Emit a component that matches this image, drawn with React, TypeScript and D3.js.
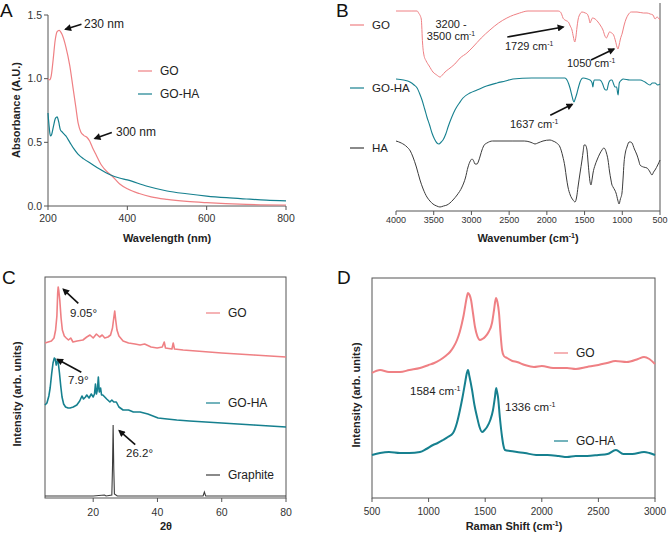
import React from 'react';
import * as d3 from 'd3';

type P = [number, number];

const FONT = '"Liberation Sans", Arial, Helvetica, sans-serif';
const PINK = '#EF8084';
const TEAL = '#16808F';
const DARK = '#3c3c3c';
const AXIS = '#555555';

// ---------- Panel A: UV-Vis ----------
const uvTicksX = [200, 400, 600, 800];
const uvTicksY = [0, 0.5, 1.0, 1.5];
const uvGO: P[] = [[200,1.0],[204,0.99],[208,1.02],[213,1.15],[218,1.3],[223,1.37],[228,1.38],[235,1.35],[245,1.25],[255,1.1],[263,0.93],[270,0.78],[276,0.65],[283,0.58],[290,0.555],[298,0.54],[305,0.51],[312,0.46],[320,0.41],[335,0.32],[350,0.265],[360,0.24],[380,0.175],[400,0.135],[430,0.098],[460,0.072],[500,0.052],[550,0.036],[600,0.026],[700,0.013],[800,0.008]];
const uvGOHA: P[] = [[200,0.73],[203,0.62],[206,0.55],[209,0.56],[214,0.63],[219,0.69],[223,0.70],[227,0.66],[231,0.6],[236,0.58],[245,0.55],[255,0.5],[265,0.45],[275,0.41],[290,0.37],[310,0.33],[330,0.29],[358,0.243],[380,0.22],[400,0.205],[450,0.155],[500,0.118],[550,0.096],[600,0.078],[650,0.065],[700,0.055],[750,0.046],[800,0.04]];

// ---------- Panel B: FTIR ----------
const irTicks = [4000, 3500, 3000, 2500, 2000, 1500, 1000, 500];
const irGO: P[] = [[4000,200],[3800,200],[3720,200],[3700,198],[3665,192],[3648,168],[3630,156],[3600,150],[3560,145],[3510,139],[3460,136],[3417,134],[3385,136],[3350,139],[3300,142],[3220,147],[3150,153],[3060,158],[2980,164],[2870,173],[2755,181],[2640,188],[2530,193],[2440,196],[2360,198],[2250,200],[1850,200],[1820,199],[1800,196],[1786,193],[1760,191],[1735,190],[1715,189],[1690,185],[1667,181],[1648,174],[1630,169],[1615,174],[1600,184],[1587,191],[1560,197],[1534,199],[1490,198],[1465,197],[1440,192],[1428,188],[1415,190],[1395,193],[1360,192],[1322,189],[1285,185],[1256,181],[1230,175],[1210,173],[1190,176],[1170,179],[1140,178],[1115,176],[1090,170],[1070,164],[1057,162],[1045,165],[1025,172],[1000,178],[975,186],[950,192],[924,196],[880,199],[805,199],[720,198],[672,198],[630,197],[593,196],[565,192],[540,194],[520,193],[500,191]];
const irGOHA: P[] = [[4000,132],[3900,131],[3815,129],[3760,126],[3720,123],[3690,118],[3655,111],[3620,102],[3590,94],[3555,86],[3523,78],[3490,72],[3457,68],[3430,67],[3400,69],[3377,71],[3340,77],[3310,84],[3260,94],[3218,101],[3160,108],[3112,113],[3020,118],[2926,121],[2800,125],[2661,128],[2550,130],[2449,132],[2200,133],[1760,133],[1733,131],[1710,127],[1693,123],[1670,116],[1653,111],[1640,109],[1625,112],[1600,118],[1580,124],[1560,129],[1520,133],[1460,132],[1428,131],[1400,128],[1390,124],[1380,129],[1370,131],[1300,131],[1260,127],[1242,123],[1220,121],[1203,121],[1190,125],[1176,129],[1150,131],[1136,131],[1115,127],[1097,124],[1075,124],[1062,118],[1055,116],[1048,122],[1040,128],[1010,131],[990,132],[900,131],[765,131],[700,129],[633,126],[600,128],[566,128],[530,126],[500,127]];
const irHA: P[] = [[4000,70],[3930,68],[3854,64],[3810,60],[3775,54],[3730,44],[3682,31],[3640,22],[3590,14],[3550,10],[3510,7],[3460,5],[3417,4],[3370,5],[3324,6],[3285,8],[3245,11],[3190,16],[3125,24],[3080,33],[3045,44],[3015,50],[2992,52],[2970,50],[2953,47],[2925,47],[2905,50],[2880,56],[2860,61],[2830,66],[2794,68],[2720,70],[2661,70],[2450,70],[2300,70],[2224,69],[2190,68],[2157,67],[2120,68],[2051,70],[1958,71],[1919,70],[1870,68],[1826,64],[1790,55],[1760,44],[1740,33],[1720,24],[1690,16],[1653,11],[1627,9],[1605,14],[1587,24],[1560,38],[1534,51],[1518,60],[1507,66],[1490,66],[1468,61],[1455,50],[1441,38],[1425,28],[1415,26],[1400,32],[1388,38],[1360,46],[1335,51],[1300,57],[1269,61],[1245,63],[1229,62],[1210,58],[1189,51],[1170,40],[1150,31],[1140,27],[1123,24],[1100,21],[1083,18],[1060,11],[1043,7],[1025,12],[1004,18],[990,32],[977,48],[960,58],[938,64],[920,68],[911,69],[890,69],[871,68],[840,62],[805,56],[780,50],[765,46],[720,44],[672,43],[640,40],[606,36],[585,39],[566,41],[530,46],[500,51]];

// ---------- Panel C: XRD ----------
const xrdTicks = [20, 40, 60, 80];
const xrdGO: P[] = [[5,155],[6,156],[7,157],[7.8,160],[8.3,168],[8.7,182],[8.95,205],[9.1,211],[9.3,207],[9.6,198],[10,180],[10.4,168],[11,162],[11.6,160],[12.3,158],[13,160],[13.7,156],[15,157],[16.8,158],[18,161],[19,163],[20,160],[21,164],[22,161],[22.8,163],[23.6,160],[24.6,161],[25.4,163],[26,170],[26.4,180],[26.7,187],[27,178],[27.4,168],[28,162],[29.3,157],[31,155],[33,154],[34.6,153],[36,154],[38,151],[39.9,150],[41.5,151],[42.1,156],[42.5,150],[44.5,149],[44.9,155],[45.3,149],[48,148],[52,147],[56,146],[60,145],[65,144],[70,143],[75,142],[80,141]];
const xrdGOHA: P[] = [[5,93],[5.6,95],[6.2,102],[6.6,110],[7.1,125],[7.5,135],[7.9,140],[8.2,139],[8.5,133],[8.8,137],[9.1,136],[9.5,125],[9.9,112],[10.3,101],[10.8,94],[11.4,91],[12.2,90],[12.8,90],[13.8,91],[14.9,93],[15.8,97],[16.5,102],[17,99],[17.6,101],[18,103],[18.7,100],[19.4,104],[20,101],[20.4,104],[20.7,114],[21,104],[21.3,108],[21.6,121],[21.9,106],[22.3,110],[22.6,103],[23,103],[23.6,101],[24.2,99],[25.2,96],[25.8,98],[26.4,96],[27.2,96],[28,91],[29.3,88],[31,88],[32.5,86],[34.6,86],[37,84],[40.2,80],[43,79],[46,78],[50,77],[55,76],[60,75],[65,74],[70,73],[75,72],[80,71]];
const xrdGraphite: P[] = [[5,2],[20,2],[23.5,3],[24,2],[25.8,3],[26.0,30],[26.2,73],[26.4,30],[26.6,4],[27.5,2],[50,2],[54.2,2],[54.6,6],[55,2],[80,2]];

// ---------- Panel D: Raman ----------
const ramanTicks = [500, 1000, 1500, 2000, 2500, 3000];
const ramanGO: P[] = [[500,125],[571,128],[650,126],[747,126],[830,128],[924,130],[1000,133],[1050,135],[1100,138],[1150,142],[1189,146],[1220,151],[1251,158],[1275,166],[1295,175],[1310,183],[1322,191],[1336,200],[1348,205],[1362,203],[1375,198],[1392,185],[1410,171],[1430,162],[1454,158],[1475,159],[1498,161],[1530,166],[1560,175],[1578,188],[1595,200],[1608,196],[1622,185],[1635,165],[1649,148],[1665,142],[1693,140],[1740,137],[1781,136],[1850,133],[1931,131],[2000,132],[2100,130],[2223,130],[2300,129],[2400,131],[2500,133],[2576,135],[2650,137],[2750,136],[2850,139],[2903,141],[2950,139],[3000,134]];
const ramanGOHA: P[] = [[500,43],[571,45],[650,46],[747,45],[830,45],[924,46],[980,49],[1039,53],[1080,55],[1127,58],[1170,61],[1216,65],[1250,75],[1277,88],[1300,101],[1322,115],[1336,124],[1348,128],[1360,122],[1384,108],[1405,93],[1428,81],[1450,71],[1472,66],[1495,68],[1516,71],[1545,78],[1569,88],[1585,100],[1597,110],[1605,106],[1613,101],[1630,80],[1649,61],[1662,52],[1675,48],[1720,47],[1781,46],[1850,45],[1950,43],[2050,43],[2150,42],[2223,41],[2300,42],[2400,42],[2500,43],[2580,44],[2655,48],[2720,44],[2800,44],[2903,46],[2950,45],[3000,43]];

function Arrow({ x1, y1, x2, y2 }: { x1: number; y1: number; x2: number; y2: number }) {
  return <line x1={x1} y1={y1} x2={x2} y2={y2} stroke="#111" strokeWidth={1.6} markerEnd="url(#arrowHead)" />;
}

function LegendItem({ x, y, color, label, fs }: { x: number; y: number; color: string; label: string; fs: number }) {
  return (
    <g>
      <line x1={x} x2={x + 14} y1={y} y2={y} stroke={color} strokeWidth={1.2} />
      <text x={x + 22} y={y} dy="0.36em" fontSize={fs} fill="#222">{label}</text>
    </g>
  );
}

function CmText({ x, y, num, fs, anchor }: { x: number; y: number; num: string; fs: number; anchor?: string }) {
  return (
    <text x={x} y={y} dy="0.35em" fontSize={fs} fill="#222" textAnchor={anchor || 'start'}>
      {num} cm<tspan dy={-fs * 0.38} fontSize={fs * 0.62}>-1</tspan>
    </text>
  );
}

export default function App() {
  const ax = d3.scaleLinear().domain([200, 800]).range([48, 286]);
  const ay = d3.scaleLinear().domain([0, 1.5]).range([206, 15]);
  const aLine = d3.line<P>().x(d => ax(d[0])).y(d => ay(d[1])).curve(d3.curveMonotoneX);

  const bx = d3.scaleLinear().domain([4000, 500]).range([396, 660]);
  const by = d3.scaleLinear().domain([0, 206]).range([211, 5]);
  const bLine = d3.line<P>().x(d => bx(d[0])).y(d => by(d[1])).curve(d3.curveMonotoneX);

  const cx = d3.scaleLinear().domain([5, 80]).range([45, 286]);
  const cy = d3.scaleLinear().domain([0, 221]).range([498, 277]);
  const cLine = d3.line<P>().x(d => cx(d[0])).y(d => cy(d[1])).curve(d3.curveLinear);

  const dx = d3.scaleLinear().domain([500, 3000]).range([372, 655]);
  const dy = d3.scaleLinear().domain([0, 220]).range([498, 278]);
  const dLine = d3.line<P>().x(d => dx(d[0])).y(d => dy(d[1])).curve(d3.curveMonotoneX);

  const a230 = [ax(244), ay(1.388)];
  const a300 = [ax(318), ay(0.53)];
  const b1729 = [bx(1782), by(184)];
  const b1050 = [bx(1110), by(162)];
  const b1637 = [bx(1663), by(106.7)];
  const c905 = [cx(10.7), cy(208.7)];
  const c79 = [cx(8.83), cy(138.7)];
  const c262 = [cx(28.1), cy(67.3)];

  return (
    <svg width={668} height={533} style={{ position: 'absolute', left: 0, top: 0, background: '#fff' }} fontFamily={FONT}>
      <defs>
        <marker id="arrowHead" viewBox="0 0 10 10" refX={8} refY={5} markerUnits="userSpaceOnUse" markerWidth={8} markerHeight={7} orient="auto">
          <path d="M0,0 L10,5 L0,10 z" fill="#111" />
        </marker>
      </defs>
      <rect x={0} y={0} width={668} height={533} fill="#fff" />

      {/* ================= Panel A ================= */}
      <text x={0} y={17} fontSize={19} fill="#111">A</text>
      <line x1={48} x2={48} y1={ay(1.5)} y2={206} stroke={AXIS} />
      <line x1={48} x2={286} y1={206} y2={206} stroke={AXIS} />
      {uvTicksY.map(t => (
        <g key={'ay' + t}>
          <line x1={44} x2={48} y1={ay(t)} y2={ay(t)} stroke={AXIS} />
          <text x={42} y={ay(t)} dy="0.35em" textAnchor="end" fontSize={10.5} fill="#333">{t.toFixed(1)}</text>
        </g>
      ))}
      {uvTicksX.map(t => (
        <g key={'ax' + t}>
          <line x1={ax(t)} x2={ax(t)} y1={206} y2={210} stroke={AXIS} />
          <text x={ax(t)} y={222} textAnchor="middle" fontSize={10.5} fill="#333">{t}</text>
        </g>
      ))}
      <path d={aLine(uvGO) || ''} fill="none" stroke={PINK} strokeWidth={1.2} />
      <path d={aLine(uvGOHA) || ''} fill="none" stroke={TEAL} strokeWidth={1.2} />
      <text x={167} y={242} textAnchor="middle" fontSize={11} fontWeight="bold" fill="#222">Wavelength (nm)</text>
      <text transform="translate(19.5,110) rotate(-90)" textAnchor="middle" fontSize={11} fontWeight="bold" fill="#222">Absorbance (A.U.)</text>
      <LegendItem x={138} y={71} color={PINK} label="GO" fs={12} />
      <LegendItem x={138} y={94} color={TEAL} label="GO-HA" fs={12} />
      <Arrow x1={a230[0] + 16} y1={a230[1] - 5} x2={a230[0]} y2={a230[1]} />
      <text x={84} y={24} dy="0.35em" fontSize={12} fill="#222">230 nm</text>
      <Arrow x1={a300[0] + 17} y1={a300[1] - 6} x2={a300[0]} y2={a300[1]} />
      <text x={116} y={132} dy="0.35em" fontSize={12} fill="#222">300 nm</text>

      {/* ================= Panel B ================= */}
      <text x={336} y={17} fontSize={19} fill="#111">B</text>
      <line x1={396} x2={660} y1={211} y2={211} stroke={AXIS} />
      <line x1={660} x2={660} y1={3} y2={211} stroke={AXIS} />
      {irTicks.map(t => (
        <g key={'bx' + t}>
          <line x1={bx(t)} x2={bx(t)} y1={211} y2={215} stroke={AXIS} />
          <text x={bx(t)} y={223} textAnchor="middle" fontSize={9} fill="#333">{t}</text>
        </g>
      ))}
      <path d={bLine(irGO) || ''} fill="none" stroke={PINK} strokeWidth={1} />
      <path d={bLine(irGOHA) || ''} fill="none" stroke={TEAL} strokeWidth={1.1} />
      <path d={bLine(irHA) || ''} fill="none" stroke={DARK} strokeWidth={1} />
      <text x={528} y={242} textAnchor="middle" fontSize={11} fontWeight="bold" fill="#222">
        Wavenumber (cm<tspan dy={-4} fontSize={7}>-1</tspan><tspan dy={4}>)</tspan>
      </text>
      <LegendItem x={350} y={25} color={PINK} label="GO" fs={11.5} />
      <LegendItem x={350} y={88} color={TEAL} label="GO-HA" fs={11.5} />
      <LegendItem x={350} y={148} color={DARK} label="HA" fs={11.5} />
      <text x={451} y={24} dy="0.35em" textAnchor="middle" fontSize={11} fill="#222">3200 -</text>
      <CmText x={451} y={36} num="3500" fs={11} anchor="middle" />
      <Arrow x1={b1729[0] - 56} y1={b1729[1] + 10} x2={b1729[0]} y2={b1729[1]} />
      <CmText x={505} y={46} num="1729" fs={11} />
      <Arrow x1={b1050[0] - 23} y1={b1050[1] + 11} x2={b1050[0]} y2={b1050[1]} />
      <CmText x={567} y={63.5} num="1050" fs={11} />
      <Arrow x1={b1637[0] - 22} y1={b1637[1] + 11} x2={b1637[0]} y2={b1637[1]} />
      <CmText x={510} y={124.5} num="1637" fs={11} />

      {/* ================= Panel C ================= */}
      <text x={2} y={284} fontSize={19} fill="#111">C</text>
      <rect x={45} y={277} width={241} height={221} fill="none" stroke={AXIS} />
      {xrdTicks.map(t => (
        <g key={'cx' + t}>
          <line x1={cx(t)} x2={cx(t)} y1={498} y2={502} stroke={AXIS} />
          <text x={cx(t)} y={516} textAnchor="middle" fontSize={10.5} fill="#333">{t}</text>
        </g>
      ))}
      <path d={cLine(xrdGO) || ''} fill="none" stroke={PINK} strokeWidth={1.6} strokeLinejoin="round" />
      <path d={cLine(xrdGOHA) || ''} fill="none" stroke={TEAL} strokeWidth={1.6} strokeLinejoin="round" />
      <path d={cLine(xrdGraphite) || ''} fill="none" stroke={DARK} strokeWidth={1.1} />
      <text x={166} y={530} textAnchor="middle" fontSize={11} fontWeight="bold" fill="#222">2θ</text>
      <text transform="translate(20.5,394) rotate(-90)" textAnchor="middle" fontSize={11} fontWeight="bold" fill="#222">Intensity (arb. units)</text>
      <LegendItem x={206} y={313} color={PINK} label="GO" fs={12} />
      <LegendItem x={206} y={403} color={TEAL} label="GO-HA" fs={12} />
      <LegendItem x={206} y={475} color={DARK} label="Graphite" fs={12} />
      <Arrow x1={c905[0] + 15} y1={c905[1] + 14} x2={c905[0]} y2={c905[1]} />
      <text x={70} y={313} dy="0.35em" fontSize={11.5} fill="#222">9.05°</text>
      <Arrow x1={c79[0] + 24} y1={c79[1] + 13} x2={c79[0]} y2={c79[1]} />
      <text x={68} y={380} dy="0.35em" fontSize={11.5} fill="#222">7.9°</text>
      <Arrow x1={c262[0] + 16} y1={c262[1] + 14} x2={c262[0]} y2={c262[1]} />
      <text x={126} y={453} dy="0.35em" fontSize={11.5} fill="#222">26.2°</text>

      {/* ================= Panel D ================= */}
      <text x={337} y={284} fontSize={19} fill="#111">D</text>
      <rect x={372} y={278} width={283} height={220} fill="none" stroke={AXIS} />
      {ramanTicks.map(t => (
        <g key={'dx' + t}>
          <line x1={dx(t)} x2={dx(t)} y1={498} y2={502} stroke={AXIS} />
          <text x={dx(t)} y={515} textAnchor="middle" fontSize={10} fill="#333">{t}</text>
        </g>
      ))}
      <path d={dLine(ramanGO) || ''} fill="none" stroke={PINK} strokeWidth={2} strokeLinejoin="round" />
      <path d={dLine(ramanGOHA) || ''} fill="none" stroke={TEAL} strokeWidth={2} strokeLinejoin="round" />
      <text x={514} y={530} textAnchor="middle" fontSize={11} fontWeight="bold" fill="#222">
        Raman Shift (cm<tspan dy={-4} fontSize={7}>-1</tspan><tspan dy={4}>)</tspan>
      </text>
      <text transform="translate(360,395) rotate(-90)" textAnchor="middle" fontSize={11} fontWeight="bold" fill="#222">Intensity (arb. units)</text>
      <LegendItem x={554} y={353} color={PINK} label="GO" fs={12} />
      <LegendItem x={554} y={441} color={TEAL} label="GO-HA" fs={12} />
      <CmText x={410} y={391} num="1584" fs={11.5} />
      <CmText x={505} y={407} num="1336" fs={11.5} />
    </svg>
  );
}
